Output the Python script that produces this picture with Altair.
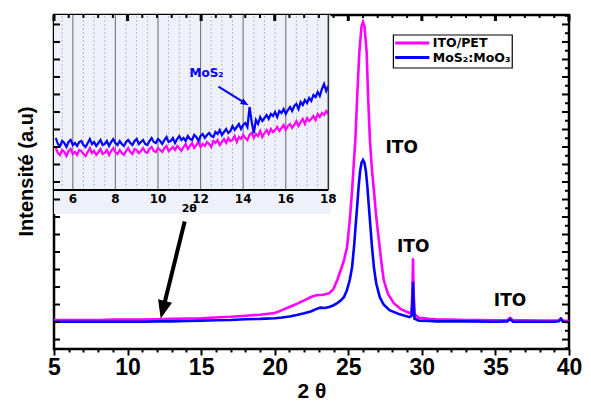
import altair as alt
import numpy as np
import pandas as pd

# ---------------- main pattern (2 theta, intensity a.u.) ----------------
ito_x = [5, 6, 7, 8, 9, 10, 11, 12, 13, 14,
         15, 16, 17, 18, 19, 20, 20.5, 21, 21.5, 22,
         22.5, 22.9, 23.3, 23.7, 24.0, 24.25, 24.5, 24.7, 24.92, 25.1,
         25.26, 25.37, 25.48, 25.6, 25.75, 25.9, 26.0, 26.1, 26.25, 26.35,
         26.47, 26.6, 26.74, 26.9, 27.08, 27.25, 27.41, 27.7, 28.09, 28.6,
         29.16, 29.3, 29.36, 29.4, 29.44, 29.5, 29.8, 30.5, 31, 32,
         33, 34, 35, 35.8, 36.0, 36.2, 37, 38, 39, 39.3,
         39.45, 39.6, 40]
ito_y = [6, 6, 6, 6, 7, 7, 7, 8, 9, 10,
         11, 13, 15, 18, 21, 26, 34, 43, 52, 62,
         72, 77, 78, 82, 95, 120, 150, 175, 215, 290,
         377, 450, 520, 640, 770, 845, 857, 845, 770, 640,
         520, 440, 377, 300, 234, 170, 120, 80, 54, 36,
         26, 30, 90, 182, 90, 22, 12, 9, 8, 7,
         6, 6, 5, 6, 12, 5, 5, 4, 4, 5,
         10, 4, 3]

mos_x = [5, 6, 7, 8, 9, 10, 11, 12, 13, 14,
         15, 16, 17, 18, 19, 20, 20.5, 21, 21.5, 22,
         22.5, 22.8, 23.1, 23.4, 23.7, 24.0, 24.25, 24.5, 24.7, 24.9,
         25.1, 25.26, 25.4, 25.5, 25.6, 25.7, 25.8, 25.9, 26.0, 26.1,
         26.2, 26.3, 26.4, 26.5, 26.6, 26.74, 26.9, 27.14, 27.4, 27.8,
         28.5, 29.16, 29.3, 29.36, 29.4, 29.44, 29.5, 29.8, 30.5, 31,
         33, 35, 35.8, 36.0, 36.2, 37, 39, 39.3, 39.45, 39.6,
         40]
mos_y = [1, 1, 1, 1, 1, 1, 1, 2, 2, 3,
         4, 5, 6, 8, 9, 11, 13, 16, 20, 25,
         31, 37, 41, 40, 43, 48, 54, 62, 71, 90,
         120, 157, 220, 275, 329, 385, 430, 455, 463, 455,
         430, 385, 329, 275, 220, 157, 110, 71, 50, 34,
         22, 14, 18, 60, 115, 60, 10, 4, 3, 2,
         2, 1, 2, 8, 1, 1, 1, 2, 9, 1,
         0]

# ---------------- inset (zoom 5-18 deg) ----------------
inset_x = np.round(np.arange(5.2, 18.01, 0.1), 1)
inset_mos = [52, 46, 44, 49, 47, 43, 48, 50, 45, 47,
             44, 48, 49, 45, 43, 47, 51, 46, 48, 44,
             47, 50, 45, 46, 49, 44, 48, 51, 47, 45,
             49, 46, 44, 48, 50, 47, 45, 49, 51, 46,
             48, 50, 46, 45, 49, 52, 48, 47, 51, 49,
             46, 50, 53, 48, 49, 52, 47, 51, 54, 50,
             52, 49, 54, 51, 50, 55, 53, 49, 54, 56,
             52, 55, 57, 54, 53, 58, 56, 60, 55, 58,
             61, 57, 59, 64, 60, 63, 66, 61, 65, 67,
             63, 83, 68, 57, 70, 66, 73, 69, 72, 75,
             71, 76, 74, 78, 73, 79, 77, 81, 76, 80,
             83, 79, 84, 86, 81, 88, 85, 90, 87, 92,
             89, 95, 93, 98, 94, 101, 106, 99, 104]
inset_ito = [42, 37, 35, 40, 38, 34, 39, 41, 36, 38,
             35, 40, 39, 36, 34, 38, 42, 37, 39, 35,
             38, 41, 36, 37, 40, 35, 39, 42, 38, 36,
             40, 37, 35, 39, 42, 38, 36, 41, 40, 37,
             39, 42, 38, 37, 41, 43, 39, 38, 42, 40,
             38, 42, 44, 39, 41, 43, 40, 44, 42, 39,
             43, 46, 41, 44, 47, 42, 45, 48, 43, 46,
             44, 48, 46, 43, 49, 47, 50, 45, 48, 51,
             47, 52, 49, 50, 54, 48, 53, 51, 55, 52,
             50, 55, 57, 52, 56, 54, 59, 53, 57, 60,
             56, 61, 58, 60, 63, 59, 62, 65, 60, 64,
             66, 62, 65, 69, 64, 68, 71, 66, 72, 69,
             71, 74, 70, 76, 73, 77, 75, 79, 76]
inset_major = [6, 8, 10, 12, 14, 16, 18]
inset_minor = [5.5, 6.5, 7, 7.5, 8.5, 9, 9.5, 10.5, 11, 11.5, 12.5, 13, 13.5,
               14.5, 15, 15.5, 16.5, 17, 17.5]

# axis tick lists
x_ticks = list(range(5, 41))
y_ticks_left = list(range(-50, 851, 50))
y_ticks_right = list(range(-75, 876, 25))

legend_labels = ["ITO/PET", "MoS₂:MoO₃"]
MAG, BLU = "#FF00FF", "#0000FF"

W, H = 515, 334
F = W / 520.0
xs = alt.Scale(domain=[5, 40], nice=False, zero=False)
ys = alt.Scale(domain=[-77, 877], nice=False, zero=False)
ixs = alt.Scale(domain=[5.116, 18], range=[0, 277 * F], nice=False, zero=False)
iys = alt.Scale(domain=[0, 175], range=[175, 0], nice=False, zero=False)

BOLD_W = "DejaVu Sans"
ARIAL = "Liberation Sans"

# ---------------- main layer ----------------
df_ito = pd.DataFrame({"x": ito_x, "y": ito_y})
df_mos = pd.DataFrame({"x": mos_x, "y": mos_y})

x_axis = alt.Axis(
    values=x_ticks,
    labelExpr="datum.value % 5 === 0 ? datum.label : ''",
    format="d",
    tickSize={"condition": {"test": "datum.value % 5 === 0", "value": 6}, "value": 3},
    tickWidth=2, tickColor="black", domain=False, grid=False,
    labelFont=ARIAL, labelFontWeight="bold", labelFontSize=23, labelColor="black",
    labelPadding=1, labelFlush=False, labelOverlap=False,
    title="2 θ", titleFont=ARIAL, titleFontWeight="bold", titleFontSize=21,
    titleColor="black", titlePadding=1,
)
y_axis = alt.Axis(
    ticks=False, labels=False, domain=False, grid=False,
    title="Intensité (a.u)", titleFont=ARIAL, titleFontWeight="bold",
    titleFontSize=20, titleColor="black", titlePadding=18, titleY=156,
)

main_ito = alt.Chart(df_ito).mark_line(color=MAG, strokeWidth=2.6).encode(
    x=alt.X("x:Q", scale=xs, axis=x_axis),
    y=alt.Y("y:Q", scale=ys, axis=y_axis),
)
main_mos = alt.Chart(df_mos).mark_line(color=BLU, strokeWidth=2.6).encode(
    x=alt.X("x:Q", scale=xs, axis=x_axis),
    y=alt.Y("y:Q", scale=ys, axis=y_axis),
)
main = alt.layer(main_ito, main_mos)

# ---------------- inset ----------------
df_bg = pd.DataFrame({"x": [5.116], "x2": [18.1], "y": [-24], "y2": [175]})
bg = alt.Chart(df_bg).mark_rect(fill="#EEF0FA").encode(
    x=alt.X("x:Q", scale=ixs, axis=None), x2="x2",
    y=alt.Y("y:Q", scale=iys, axis=None), y2="y2",
)
df_minor = pd.DataFrame({"x": inset_minor, "y": 0, "y2": 175})
grid_minor = alt.Chart(df_minor).mark_rule(color="#b8bcc8", strokeWidth=1, strokeDash=[2, 2]).encode(
    x=alt.X("x:Q", scale=ixs, axis=None),
    y=alt.Y("y:Q", scale=iys, axis=None), y2="y2",
)
df_major = pd.DataFrame({"x": inset_major[:-1], "y": 0, "y2": 175})
grid_major = alt.Chart(df_major).mark_rule(color="#808080", strokeWidth=1.2).encode(
    x=alt.X("x:Q", scale=ixs, axis=None),
    y=alt.Y("y:Q", scale=iys, axis=None), y2="y2",
)
df_in_ito = pd.DataFrame({"x": inset_x, "y": inset_ito})
df_in_mos = pd.DataFrame({"x": inset_x, "y": inset_mos})
in_ito = alt.Chart(df_in_ito).mark_line(color=MAG, strokeWidth=2.2).encode(
    x=alt.X("x:Q", scale=ixs, axis=None),
    y=alt.Y("y:Q", scale=iys, axis=None),
)
in_mos = alt.Chart(df_in_mos).mark_line(color=BLU, strokeWidth=2.2).encode(
    x=alt.X("x:Q", scale=ixs, axis=None),
    y=alt.Y("y:Q", scale=iys, axis=None),
)
df_frame_b = pd.DataFrame({"x": [5.116], "x2": [18], "y": [0]})
frame_b = alt.Chart(df_frame_b).mark_rule(color="black", strokeWidth=2).encode(
    x=alt.X("x:Q", scale=ixs, axis=None), x2="x2",
    y=alt.Y("y:Q", scale=iys, axis=None),
)
df_frame_r = pd.DataFrame({"x": [18], "y": [0], "y2": [175]})
frame_r = alt.Chart(df_frame_r).mark_rule(color="#333333", strokeWidth=1.5).encode(
    x=alt.X("x:Q", scale=ixs, axis=None),
    y=alt.Y("y:Q", scale=iys, axis=None), y2="y2",
)
df_in_lab = pd.DataFrame({"x": inset_major, "y": -8.5, "t": [str(v) for v in inset_major]})
in_lab = alt.Chart(df_in_lab).mark_text(font=BOLD_W, fontWeight="bold", fontSize=12,
                                        color="black", baseline="middle").encode(
    x=alt.X("x:Q", scale=ixs, axis=None),
    y=alt.Y("y:Q", scale=iys, axis=None), text="t:N",
)
df_in_title = pd.DataFrame({"x": [11.47], "y": [-19], "t": ["2θ"]})
in_title = alt.Chart(df_in_title).mark_text(font=BOLD_W, fontWeight="bold", fontSize=11,
                                            color="black", baseline="middle").encode(
    x=alt.X("x:Q", scale=ixs, axis=None),
    y=alt.Y("y:Q", scale=iys, axis=None), text="t:N",
)
df_mos_lab = pd.DataFrame({"x": [12.28], "y": [117], "t": ["MoS₂"]})
mos_lab = alt.Chart(df_mos_lab).mark_text(font=BOLD_W, fontWeight="bold", fontSize=12,
                                          color=BLU, baseline="middle").encode(
    x=alt.X("x:Q", scale=ixs, axis=None),
    y=alt.Y("y:Q", scale=iys, axis=None), text="t:N",
)
df_barrow = pd.DataFrame({"x": [12.84], "x2": [14.09], "y": [103.3], "y2": [86.8]})
b_shaft = alt.Chart(df_barrow).mark_rule(color=BLU, strokeWidth=2).encode(
    x=alt.X("x:Q", scale=ixs, axis=None), x2="x2",
    y=alt.Y("y:Q", scale=iys, axis=None), y2="y2",
)
df_bhead = pd.DataFrame({"x": [14.09], "y": [86.8]})
b_head = alt.Chart(df_bhead).mark_point(shape="M0,-1L0.8,1L-0.8,1Z", filled=True, opacity=1,
                                        size=64, angle=121, color=BLU).encode(
    x=alt.X("x:Q", scale=ixs, axis=None),
    y=alt.Y("y:Q", scale=iys, axis=None),
)
inset = alt.layer(bg, grid_minor, grid_major, in_ito, in_mos, frame_b, frame_r,
                  in_lab, in_title, mos_lab, b_shaft, b_head)

# ---------------- overlay: ticks, annotations, legend ----------------
df_yl = pd.DataFrame({"v": y_ticks_left})
ticks_left = alt.Chart(df_yl).mark_rule(color="black", strokeWidth=2).encode(
    y=alt.Y("v:Q", scale=ys, axis=None), x=alt.value(0), x2=alt.value(6),
)
df_yr_major = pd.DataFrame({"v": [v for v in y_ticks_right if v % 50 == 0]})
df_yr_minor = pd.DataFrame({"v": [v for v in y_ticks_right if v % 50 != 0]})
ticks_r1 = alt.Chart(df_yr_major).mark_rule(color="black", strokeWidth=2).encode(
    y=alt.Y("v:Q", scale=ys, axis=None), x=alt.value(W), x2=alt.value(W - 7),
)
ticks_r2 = alt.Chart(df_yr_minor).mark_rule(color="black", strokeWidth=2).encode(
    y=alt.Y("v:Q", scale=ys, axis=None), x=alt.value(W), x2=alt.value(W - 4),
)
df_xt_major = pd.DataFrame({"v": [v for v in x_ticks if v % 5 == 0]})
df_xt_minor = pd.DataFrame({"v": [v for v in x_ticks if v % 5 != 0]})
ticks_t1 = alt.Chart(df_xt_major).mark_rule(color="black", strokeWidth=3).encode(
    x=alt.X("v:Q", scale=xs, axis=None), y=alt.value(0), y2=alt.value(6),
)
ticks_t2 = alt.Chart(df_xt_minor).mark_rule(color="black", strokeWidth=2).encode(
    x=alt.X("v:Q", scale=xs, axis=None), y=alt.value(0), y2=alt.value(3),
)

df_ito_lab = pd.DataFrame({"x": [28.63, 29.41, 35.99], "y": [498, 213, 59], "t": ["ITO"] * 3})
ito_lab = alt.Chart(df_ito_lab).mark_text(font=BOLD_W, fontWeight="bold", fontSize=17,
                                          color="black", baseline="middle").encode(
    x=alt.X("x:Q", scale=xs, axis=None),
    y=alt.Y("y:Q", scale=ys, axis=None), text="t:N",
)
df_karrow = pd.DataFrame({"x": [13.88], "x2": [12.40], "y": [287], "y2": [35]})
k_shaft = alt.Chart(df_karrow).mark_rule(color="black", strokeWidth=4).encode(
    x=alt.X("x:Q", scale=xs, axis=None), x2="x2",
    y=alt.Y("y:Q", scale=ys, axis=None), y2="y2",
)
df_khead = pd.DataFrame({"x": [12.40], "y": [35]})
k_head = alt.Chart(df_khead).mark_point(shape="M0,-1L0.8,1L-0.8,1Z", filled=True, opacity=1,
                                        size=324, angle=194, color="black").encode(
    x=alt.X("x:Q", scale=xs, axis=None),
    y=alt.Y("y:Q", scale=ys, axis=None),
)

one = pd.DataFrame({"a": [0]})
leg_box = alt.Chart(one).mark_rect(fill="white", stroke="black", strokeWidth=1.2).encode(
    x=alt.value(342.7 * F), x2=alt.value(462.7 * F), y=alt.value(20), y2=alt.value(53),
)
leg_l1 = alt.Chart(one).mark_rule(color=MAG, strokeWidth=3).encode(
    x=alt.value(344.5 * F), x2=alt.value(379 * F), y=alt.value(28),
)
leg_l2 = alt.Chart(one).mark_rule(color=BLU, strokeWidth=3).encode(
    x=alt.value(344.5 * F), x2=alt.value(379 * F), y=alt.value(42.5),
)
df_leg = pd.DataFrame({"t": legend_labels, "py": [28, 43]})
leg_t = alt.Chart(df_leg).mark_text(font=BOLD_W, fontWeight="bold", fontSize=12.5,
                                    color="black", align="left", baseline="middle").encode(
    x=alt.value(382.5 * F), y=alt.Y("py:Q", scale=None, axis=None), text="t:N",
)

overlay = alt.layer(ticks_left, ticks_r1, ticks_r2, ticks_t1, ticks_t2,
                    ito_lab, k_shaft, k_head, leg_box, leg_l1, leg_l2, leg_t)

chart = alt.layer(main, inset, overlay).resolve_scale(
    x="independent", y="independent"
).properties(
    width=W, height=H,
    autosize=alt.AutoSizeParams(type="none"),
    padding={"left": 46, "top": 7, "right": 14, "bottom": 56},
    background="white",
).configure_view(stroke="black", strokeWidth=2.5)

chart.save("out.html", embed_options={"renderer": "svg", "actions": False})
